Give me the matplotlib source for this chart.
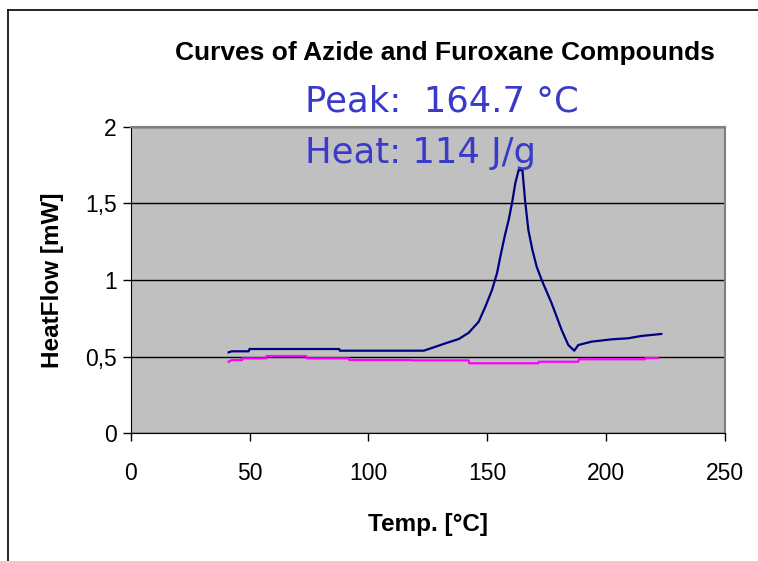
import matplotlib
matplotlib.use('Agg')
import matplotlib.pyplot as plt
from matplotlib.lines import Line2D

# Blue curve (azide)
azide_t = [41.2, 42.5, 49.6, 50.0, 87.7, 88.0, 123.3, 127.5, 132.4, 138.0, 142.2,
           146.4, 149.2, 152.0, 154.1, 155.5, 157.3, 159.0, 160.4, 161.8, 163.2,
           164.8, 165.9, 167.3, 169.0, 170.8, 172.9, 177.1, 181.3, 184.1, 186.6,
           188.3, 193.9, 202.3, 209.3, 214.8, 223.2]
azide_hf = [0.528, 0.535, 0.535, 0.55, 0.55, 0.539, 0.539, 0.561, 0.587, 0.615, 0.656,
            0.728, 0.826, 0.935, 1.044, 1.152, 1.283, 1.391, 1.50, 1.631, 1.717,
            1.717, 1.522, 1.326, 1.196, 1.087, 1.0, 0.848, 0.674, 0.576, 0.539,
            0.576, 0.598, 0.613, 0.62, 0.635, 0.648]

# Magenta curve (furoxane)
furox_t = [41.2, 42.5, 46.9, 47.0, 57.0, 57.2, 73.8, 74.0, 91.9, 92.0, 118.4, 118.6,
           142.2, 142.4, 171.5, 171.7, 188.3, 188.5, 216.3, 216.5, 221.8]
furox_hf = [0.467, 0.478, 0.478, 0.489, 0.489, 0.504, 0.504, 0.489, 0.489, 0.478, 0.478,
            0.476, 0.476, 0.457, 0.457, 0.467, 0.467, 0.483, 0.483, 0.491, 0.491]

x_ticks = [0, 50, 100, 150, 200, 250]
y_ticks = [0, 0.5, 1, 1.5, 2]
y_labels = ['0', '0,5', '1', '1,5', '2']

fam = ['Liberation Sans', 'DejaVu Sans']

fig = plt.figure(figsize=(7.58, 5.61), dpi=100)
ax = fig.add_axes([0.1724, 0.2276, 0.784, 0.5465])
ax.set_facecolor('#c0c0c0')

ax.plot(azide_t, azide_hf, color='#000080', lw=1.6)
ax.plot(furox_t, furox_hf, color='#ff00ff', lw=1.6)

ax.set_xlim(0, 250)
ax.set_ylim(0, 2)
ax.set_xticks(x_ticks)
ax.set_yticks(y_ticks)
ax.set_xticklabels([str(v) for v in x_ticks], family=fam, fontsize=16.5)
ax.set_yticklabels(y_labels, family=fam, fontsize=16.5)
ax.tick_params(axis='both', direction='out', length=6, width=1, color='black')
ax.tick_params(axis='x', pad=15)
ax.tick_params(axis='y', pad=4)
ax.yaxis.grid(True, color='black', lw=1)
ax.set_axisbelow(True)
for s in ['top', 'right']:
    ax.spines[s].set_color('#808080')
    ax.spines[s].set_linewidth(1.5)
for s in ['left', 'bottom']:
    ax.spines[s].set_color('black')

ax.set_xlabel('Temp. [°C]', family=fam, fontsize=17.5, fontweight='bold', labelpad=20)
ax.set_ylabel('HeatFlow [mW]', family=fam, fontsize=17.5, fontweight='bold', labelpad=15)

fig.text(0.587, 0.906, 'Curves of Azide and Furoxane Compounds', family=fam,
         fontsize=19, fontweight='bold', ha='center', va='center')
fig.text(0.402, 0.8004, 'Peak:  164.7 °C', family='DejaVu Sans', fontsize=25.5,
         color='#3a3ac8', ha='left', va='baseline')
fig.text(0.402, 0.7094, 'Heat: 114 J/g', family='DejaVu Sans', fontsize=25.5,
         color='#3a3ac8', ha='left', va='baseline')

# outer frame (top and left edges visible)
fig.add_artist(Line2D([0.0106, 1.0], [0.982, 0.982], color='black', lw=1.2,
                      transform=fig.transFigure))
fig.add_artist(Line2D([0.0106, 0.0106], [0.0, 0.982], color='black', lw=1.2,
                      transform=fig.transFigure))

fig.savefig('out.png', dpi=100)
